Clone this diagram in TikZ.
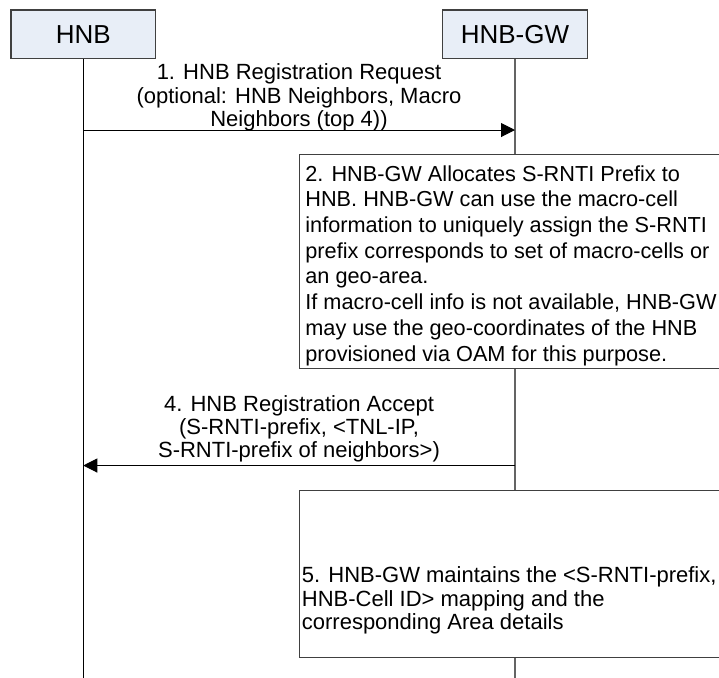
\documentclass[tikz,border=0pt]{standalone}
\usepackage{fontspec}
\setmainfont{Liberation Sans}
\usetikzlibrary{arrows.meta}
\definecolor{hdrfill}{RGB}{232,238,247}
\definecolor{linegray}{RGB}{64,64,64}
\definecolor{gwline}{RGB}{100,100,100}
\begin{document}
\begin{tikzpicture}[x=0.5pt,y=-0.5pt,
  actor/.style={draw=linegray, fill=hdrfill, line width=0.6pt, minimum width=72.25pt, minimum height=24.25pt, inner sep=0pt, font=\fontsize{13}{15}\selectfont},
  lifeline/.style={draw=black, line width=0.6pt},
  msg/.style={draw=black, line width=0.5pt, -{Triangle[length=7pt,width=7pt]}},
  msgtext/.style={align=center, inner sep=0pt, font=\fontsize{11}{11.65}\selectfont},
  notebox/.style={draw=linegray, fill=white, line width=0.6pt, inner sep=0pt, anchor=north west},
  notetext/.style={align=left, inner sep=0pt, anchor=north west}
]
\useasboundingbox (0,0) rectangle (719,677);
\clip (0,0) rectangle (719,677);

% actors
\node[actor] (hnb) at (83.25,34.25) {HNB};
\node[actor] (gw) at (515,34.25) {HNB-GW};

% lifeline ends
\coordinate (hnbEnd) at (83.25,690);
\coordinate (gwEnd) at (515,690);
\draw[lifeline] (hnb.south) -- (hnbEnd);
\draw[lifeline, draw=gwline] (gw.south) -- (gwEnd);

% message 1
\coordinate (a1s) at (83.25,130);
\coordinate (a1e) at (515,130);
\draw[msg] (a1s) -- (a1e);
\node[msgtext] (m1) at (299,97.5) {1. HNB Registration Request\\(optional: HNB Neighbors, Macro\\Neighbors (top 4))};

% note 2
\node[notebox, minimum width=225pt, minimum height=107pt] (n2) at (299,154) {};
\node[notetext, font=\fontsize{10.85}{12.85}\selectfont] (n2t) at (305,165) {2. HNB-GW Allocates S-RNTI Prefix to\\HNB. HNB-GW can use the macro-cell\\information to uniquely assign the S-RNTI\\prefix corresponds to set of macro-cells or\\an geo-area.\\If macro-cell info is not available, HNB-GW\\may use the geo-coordinates of the HNB\\provisioned via OAM for this purpose.};

% message 4
\coordinate (a4s) at (515,465.5);
\coordinate (a4e) at (83.25,465.5);
\draw[msg] (a4s) -- (a4e);
\node[msgtext] (m4) at (299,429) {4. HNB Registration Accept\\(S-RNTI-prefix, <TNL-IP,\\S-RNTI-prefix of neighbors>)};

% note 5
\node[notebox, minimum width=225pt, minimum height=83.5pt] (n5) at (299,490) {};
\node[notetext, font=\fontsize{11}{11.65}\selectfont] (n5t) at (301.5,566.5) {5. HNB-GW maintains the <S-RNTI-prefix,\\HNB-Cell ID> mapping and the\\corresponding Area details};
\end{tikzpicture}
\end{document}
